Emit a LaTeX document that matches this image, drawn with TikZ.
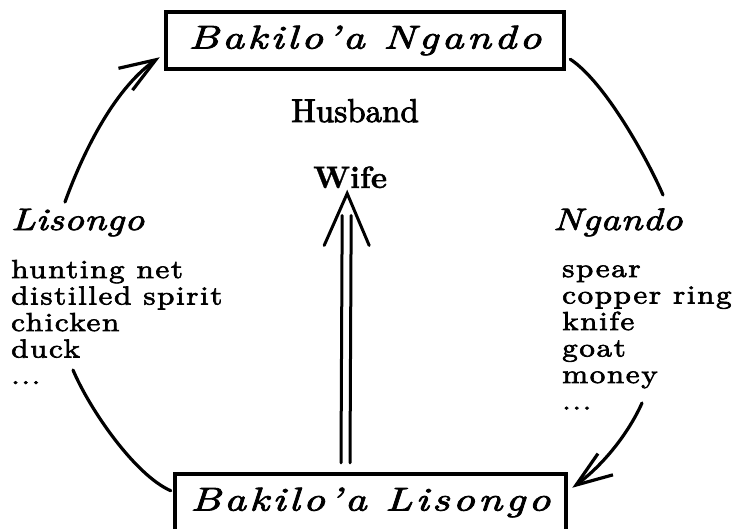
\documentclass[tikz,border=0pt]{standalone}
\usepackage{fontspec}
\usetikzlibrary{arrows.meta,bending,calc}
\newfontfamily\boxit[FakeStretch=1.3, FakeBold=2.5, LetterSpace=10]{lmroman10-italic.otf}
\newfontfamily\sideit[FakeStretch=1.25, FakeBold=2.5, LetterSpace=1]{lmroman10-italic.otf}
\newfontfamily\bodyrm[FakeStretch=1.2, FakeBold=2.5, LetterSpace=6]{lmroman10-regular.otf}
\newfontfamily\plainrm[FakeBold=2.5]{lmroman10-regular.otf}
\newfontfamily\boldrm[FakeBold=1]{lmroman10-bold.otf}
\begin{document}
\begin{tikzpicture}[x=1pt,y=-1pt,
  boxnode/.style={draw, line width=4.5pt, inner sep=0pt, minimum height=57pt,
    font=\boxit\fontsize{33}{33}\selectfont},
  sidelabel/.style={anchor=base west, inner sep=0pt, font=\sideit\fontsize{31}{31}\selectfont},
  goods/.style={anchor=base west, align=left, inner sep=0pt,
    font=\bodyrm\fontsize{26}{26.5}\selectfont},
  curve/.style={line width=3.2pt, line cap=round},
  bigtip/.style={-{Straight Barb[length=36pt,width=26pt]}},
  shaft/.style={line width=3pt, line cap=round}]
\useasboundingbox (0,0) rectangle (742,528);
\clip (0,0) rectangle (742,528);
% boxes
\node[boxnode, minimum width=398pt] (ngb) at (365,40.5) {Bakilo’a Ngando};
\node[boxnode, minimum width=391pt] (lis) at (370.5,502.5) {Bakilo’a Lisongo};
% labels
\node[anchor=base, inner sep=0pt, font=\plainrm\fontsize{33}{33}\selectfont] (husband) at (355,122) {Husband};
\node[anchor=base west, inner sep=0pt, font=\boldrm\fontsize{31}{31}\selectfont] (wife) at (313,188) {Wife};
\node[sidelabel] (lisl) at (11,230) {Lisongo};
\node[sidelabel] (ngl) at (553,230) {Ngando};
% lists: the base anchor is the baseline of the last line
\node[goods] (lgoods) at (11,384) {hunting net\\distilled spirit\\chicken\\duck\\...};
\node[goods] (rgoods) at (562,409.5) {spear\\copper ring\\knife\\goat\\money\\...};
% free ends of the arcs
\coordinate (lu) at (65,202);
\coordinate (ll) at (73,370);
\coordinate (ru) at (663,195);
\coordinate (rl) at (642,403);
% arcs
\draw[curve, bigtip] (lu) .. controls (82,155) and (115,85) .. ($(ngb.south west)+(-4,-14)$);
\draw[curve] (ll) .. controls (90,410) and (135,475) .. ($(lis.north west)+(-2,19)$);
\draw[curve] ($(ngb.south east)+(4,-12)$) .. controls (605,82) and (648,160) .. (ru);
\draw[curve, bigtip] (rl) .. controls (630,430) and (605,465) .. ($(lis.north east)+(4,16)$);
% marriage arrow
\coordinate (tipw) at ($(wife.south)+(-3,5)$);
\draw[shaft] ($(lis.north)+(-29.5,-9)$) -- ($(tipw)+(-5,22)$);
\draw[shaft] ($(lis.north)+(-20.5,-9)$) -- ($(tipw)+(4,22)$);
\draw[shaft, line join=miter] ($(tipw)+(-23,52)$) -- (tipw) -- ($(tipw)+(22,52)$);
\end{tikzpicture}
\end{document}
